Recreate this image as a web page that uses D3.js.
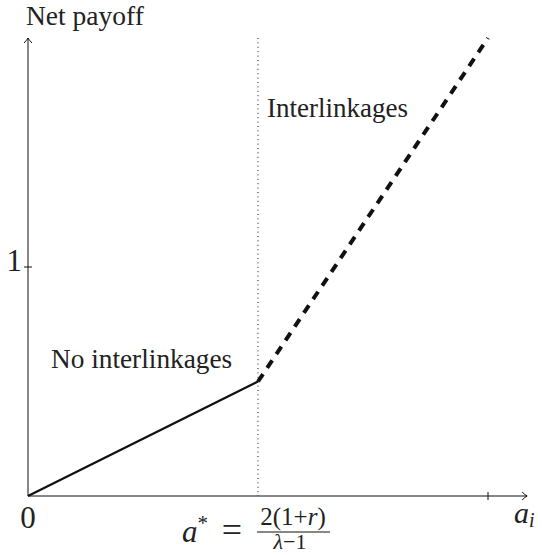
<!DOCTYPE html>
<html><head><meta charset="utf-8">
<script src="https://cdn.jsdelivr.net/npm/d3@7/dist/d3.min.js"></script>
<style>body{margin:0;background:#fff}svg{display:block}text{font-family:"Liberation Serif","Times New Roman",serif;fill:#222}</style>
</head><body>
<script>
// Data
const noInterX = [0, 1];
const noInterY = [0, 0.5];
const interX = [1, 2];
const interY = [0.5, 2];
const aStar = 1;
const xTicks = [2];
const yTicks = [1];
const yTickLabels = ["1"];
const xMaxAxis = 2.17;
const yMaxAxis = 2.0;

const W = 542, H = 555;
const svg = d3.select("body").append("svg").attr("width", W).attr("height", H);
const x = d3.scaleLinear().domain([0, 2]).range([28, 488]);
const y = d3.scaleLinear().domain([0, 2]).range([496, 38]);
const ink = "#111";

// dotted vertical line at a*
svg.append("line").attr("x1", x(aStar)).attr("x2", x(aStar))
  .attr("y1", y(yMaxAxis)).attr("y2", y(0))
  .attr("stroke", ink).attr("stroke-width", 1).attr("stroke-dasharray", "1 3.4");

// axes
const axisG = svg.append("g");
axisG.append("line").attr("x1", x(0)).attr("x2", x(xMaxAxis)).attr("y1", y(0)).attr("y2", y(0))
  .attr("stroke", ink).attr("stroke-width", 1);
axisG.append("line").attr("x1", x(0)).attr("x2", x(0)).attr("y1", y(0)).attr("y2", y(yMaxAxis))
  .attr("stroke", ink).attr("stroke-width", 1);
// arrowheads
const ax = x(xMaxAxis), ay = y(0);
axisG.append("path").attr("d", `M${ax-5},${ay-4} Q${ax-2},${ay-1} ${ax},${ay} Q${ax-2},${ay+1} ${ax-5},${ay+4}`)
  .attr("fill", "none").attr("stroke", ink).attr("stroke-width", 1);
const bx = x(0), by = y(yMaxAxis);
axisG.append("path").attr("d", `M${bx-4},${by+5} Q${bx-1},${by+2} ${bx},${by} Q${bx+1},${by+2} ${bx+4},${by+5}`)
  .attr("fill", "none").attr("stroke", ink).attr("stroke-width", 1);

// ticks
xTicks.forEach(t => {
  axisG.append("line").attr("x1", x(t)).attr("x2", x(t)).attr("y1", y(0) - 4).attr("y2", y(0) + 4)
    .attr("stroke", ink).attr("stroke-width", 1);
});
yTicks.forEach((t, i) => {
  axisG.append("line").attr("x1", x(0) - 4).attr("x2", x(0) + 4).attr("y1", y(t)).attr("y2", y(t))
    .attr("stroke", ink).attr("stroke-width", 1);
  axisG.append("text").attr("x", x(0) - 6).attr("y", y(t) + 4).attr("text-anchor", "end")
    .attr("font-size", 31).text(yTickLabels[i]);
});
// origin label
svg.append("text").attr("x", x(0)).attr("y", 528).attr("text-anchor", "middle").attr("font-size", 31).text("0");

// lines
const line = d3.line().x(d => x(d[0])).y(d => y(d[1]));
svg.append("path").datum(noInterX.map((v, i) => [v, noInterY[i]])).attr("d", line)
  .attr("fill", "none").attr("stroke", ink).attr("stroke-width", 2.3);
svg.append("path").datum(interX.map((v, i) => [v, interY[i]])).attr("d", line)
  .attr("fill", "none").attr("stroke", ink).attr("stroke-width", 4).attr("stroke-dasharray", "9 7.5");

// labels
svg.append("text").attr("x", 26).attr("y", 25).attr("font-size", 27.5).text("Net payoff");
svg.append("text").attr("x", 267).attr("y", 117).attr("font-size", 27).text("Interlinkages");
svg.append("text").attr("x", 51).attr("y", 368).attr("font-size", 27.3).text("No interlinkages");

// x axis label a_i
const ai = svg.append("text").attr("x", 514).attr("y", 523).attr("font-size", 30).attr("font-style", "italic");
ai.append("tspan").text("a");
ai.append("tspan").attr("font-size", 20).attr("dy", 4).text("i");

// formula a* = 2(1+r)/(λ−1)
const f = svg.append("text").attr("x", 182).attr("y", 542).attr("font-size", 31);
f.append("tspan").attr("font-style", "italic").text("a");
f.append("tspan").attr("font-size", 21).attr("dy", -12).text("*");
svg.append("text").attr("x", 232).attr("y", 542).attr("font-size", 36).attr("text-anchor", "middle").text("=");
const num = svg.append("text").attr("x", 293).attr("y", 525).attr("font-size", 25).attr("text-anchor", "middle");
num.append("tspan").text("2(1+");
num.append("tspan").attr("font-style", "italic").text("r");
num.append("tspan").text(")");
svg.append("line").attr("x1", 257).attr("x2", 330).attr("y1", 532).attr("y2", 532).attr("stroke", ink).attr("stroke-width", 1);
const den = svg.append("text").attr("x", 290).attr("y", 549).attr("font-size", 22).attr("text-anchor", "middle");
den.append("tspan").attr("font-style", "italic").text("λ");
den.append("tspan").text("−1");
</script>
</body></html>
